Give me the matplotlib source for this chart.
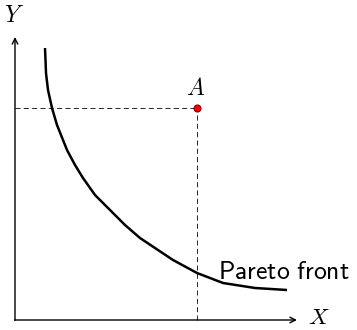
import matplotlib
matplotlib.use("Agg")
import matplotlib.pyplot as plt

plt.rcParams['mathtext.fontset'] = 'cm'

# Pareto front curve (x, y) in chart units
front_x = [30, 30.5, 31, 33, 37, 42, 48, 52, 60, 68, 80, 95, 110, 125, 140, 158, 182, 208, 240, 272]
front_y = [272, 260, 247, 230, 212, 195, 180, 170, 155, 142, 125, 110, 95, 82, 72, 60, 47, 37, 32, 30]
# Point A
point_a = (182, 212)
# axis extents
x_max = 282
y_max = 283

fig = plt.figure(figsize=(3.57, 3.30), dpi=100)
ax = fig.add_axes([0, 0, 1, 1])
ax.set_xlim(-15, 342)
ax.set_ylim(-10, 320)
ax.axis('off')

# axes with arrows
ax.annotate('', xy=(x_max, 0), xytext=(-0.5, 0),
            arrowprops=dict(arrowstyle='->', lw=1.0, color='black', shrinkA=0, shrinkB=0))
ax.annotate('', xy=(0, y_max), xytext=(0, -0.5),
            arrowprops=dict(arrowstyle='->', lw=1.0, color='black', shrinkA=0, shrinkB=0))

# dashed guide lines
ax.plot([0, point_a[0]], [point_a[1], point_a[1]], color='black', lw=0.6,
        dashes=(6, 4))
ax.plot([point_a[0], point_a[0]], [0, point_a[1]], color='black', lw=0.6,
        dashes=(6, 4))

# Pareto front
ax.plot(front_x, front_y, color='black', lw=1.8, solid_capstyle='butt',
        solid_joinstyle='round')

# point A
ax.plot([point_a[0]], [point_a[1]], 'o', color='red', markeredgecolor='#800000',
        markersize=5, markeredgewidth=0.8)

ax.text(point_a[0] - 1, point_a[1] + 8, r'$A$', fontsize=17, ha='center', va='bottom')
ax.text(-1, y_max + 22, r'$Y$', fontsize=17, ha='center', va='center')
ax.text(x_max + 22, 3, r'$X$', fontsize=16.5, ha='center', va='center')
ax.text(335, 48, r'$\mathsf{Pareto\ front}$', fontsize=18.5, ha='right', va='center')

fig.savefig('out.png', dpi=100)
